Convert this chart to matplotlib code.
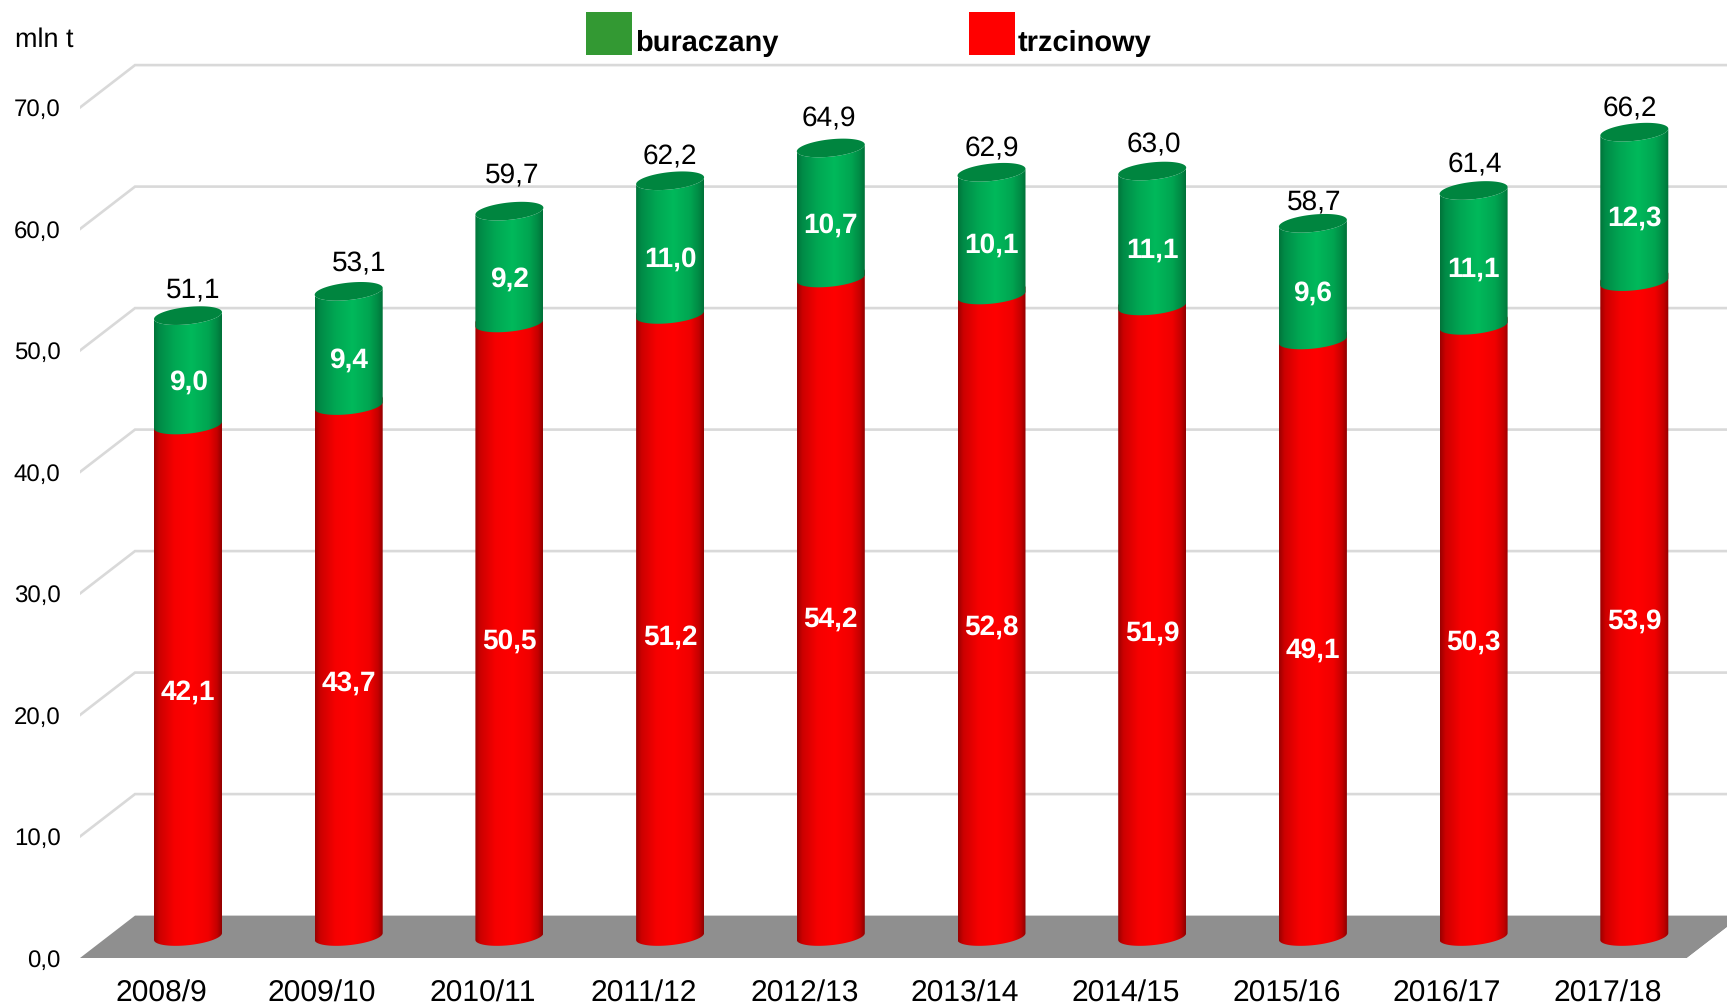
import numpy as np
import matplotlib
matplotlib.use("Agg")
import matplotlib.pyplot as plt
from matplotlib.colors import LinearSegmentedColormap
from matplotlib.patches import Polygon, PathPatch, Rectangle
from matplotlib.path import Path

plt.rcParams['font.family'] = ['Liberation Sans', 'DejaVu Sans']
plt.rcParams['text.hinting'] = 'no_hinting'
plt.rcParams['text.hinting_factor'] = 1

seasons = ["2008/9", "2009/10", "2010/11", "2011/12", "2012/13",
           "2013/14", "2014/15", "2015/16", "2016/17", "2017/18"]
cane = [42.1, 43.7, 50.5, 51.2, 54.2, 52.8, 51.9, 49.1, 50.3, 53.9]
beet = [9.0, 9.4, 9.2, 11.0, 10.7, 10.1, 11.1, 9.6, 11.1, 12.3]
totals = [51.1, 53.1, 59.7, 62.2, 64.9, 62.9, 63.0, 58.7, 61.4, 66.2]
y_ticks = [0, 10, 20, 30, 40, 50, 60, 70]

# layout (figure pixels -> axes scales)
W, H = 1727, 1007
PX_X, PX_Y = 160.7, 12.15     # px per category, px per unit
X0, Y0 = 188, 958             # px of category 0, px of value 0
AX_L = 80
fig = plt.figure(figsize=(W / 100, H / 100), dpi=100, facecolor='white')
ax = fig.add_axes([AX_L / W, (H - Y0) / H, (W - AX_L) / W, Y0 / H])
xlim = ((AX_L - X0) / PX_X, (W - X0) / PX_X)
ylim = (0, Y0 / PX_Y)

DX, DY = 55 / PX_X, 42.4 / PX_Y   # depth of the 3D wall
BASE = 21.5 / PX_Y                # bar base lift
A, B, K = 34 / PX_X, 8.7 / PX_Y, 3.4 / PX_Y  # cylinder ellipse

# gridlines and floor
for v in y_ticks[1:]:
    ax.plot([xlim[0], xlim[0] + DX, xlim[1] + 1], [v, v + DY, v + DY],
            color='#D9D9D9', lw=1.9, zorder=1, solid_joinstyle='miter')
ax.add_patch(Polygon([(xlim[0], 0), (xlim[0] + DX, DY), (xlim[1] + 1, DY),
                      ((1687 - X0) / PX_X + DX, DY), ((1687 - X0) / PX_X, 0)],
                     closed=True, fc='#8F8F8F', ec='none', zorder=2))
ax.add_patch(Polygon([((1687 - X0) / PX_X, 0), ((1687 - X0) / PX_X + DX, DY),
                      (xlim[1] + 1, DY), (xlim[1] + 1, 0)],
                     closed=True, fc='white', ec='none', zorder=2))

red_cm = LinearSegmentedColormap.from_list(
    'r', [(0, '#9A0000'), (.08, '#CC0000'), (.3, '#F60000'), (.55, '#FF0000'),
          (.8, '#F00000'), (.93, '#C40000'), (1, '#900000')])
green_cm = LinearSegmentedColormap.from_list(
    'g', [(0, '#00743A'), (.08, '#008B47'), (.3, '#00A753'), (.55, '#00B95B'),
          (.8, '#00A551'), (.93, '#008944'), (1, '#007038')])
ramp = np.linspace(0, 1, 256).reshape(1, -1)


def arc(cx, cy, t):
    return np.column_stack([cx + A * np.cos(t), cy + B * np.sin(t) + K * np.cos(t)])


def segment(cx, y0, y1, cmap, z):
    t = np.linspace(np.pi, 2 * np.pi, 60)
    pts = np.vstack([arc(cx, y1, t), arc(cx, y0, t[::-1])])
    patch = PathPatch(Path(np.vstack([pts, pts[0]]), closed=True), fc='none', ec='none',
                      transform=ax.transData)
    ax.add_patch(patch)
    im = ax.imshow(ramp, cmap=cmap, extent=(cx - A, cx + A, y0 - B - K, y1 + B + K),
                   aspect='auto', zorder=z, interpolation='bilinear')
    im.set_clip_path(patch)


# offsets of labels, in pixels
tot_dx = [5, 10, 3, 0, -2, 0, 2, 1, 1, -4]
tot_dy = [25, 27, 35, 24, 29, 23, 26, 20, 25, 23]
white = dict(color='white', fontweight='bold', fontsize=20.5, ha='center', va='center', zorder=6)

for i, (c, g, tot) in enumerate(zip(cane, beet, totals)):
    top_c = BASE + c
    top_g = top_c + g
    segment(i, BASE, top_c + 0.5, red_cm, 3)
    segment(i, top_c, top_g, green_cm, 3.1)
    ax.add_patch(Polygon(arc(i, top_g, np.linspace(0, 2 * np.pi, 80)), closed=True,
                         fc='#00853F', ec='none', zorder=3.2))
    ax.annotate(f"{tot:.1f}".replace('.', ','), (i, top_g), xytext=(tot_dx[i], tot_dy[i]),
                textcoords='offset pixels', ha='center', va='center', fontsize=20.3, color='black', zorder=6)
    ax.annotate(f"{g:.1f}".replace('.', ','), (i, top_c + g / 2), xytext=(0, -12),
                textcoords='offset pixels', **white)
    ax.annotate(f"{c:.1f}".replace('.', ','), (i, BASE + c / 2), xytext=(0, -12),
                textcoords='offset pixels', **white)

ax.set_xlim(*xlim)
ax.set_ylim(*ylim)
ax.set_xticks([i - 26.5 / PX_X for i in range(len(seasons))], seasons, fontsize=21.3)
ax.set_yticks(y_ticks, [f"{v:.1f}".replace('.', ',') for v in y_ticks], fontsize=17.6)
ax.tick_params(axis='x', length=0, pad=16)
ax.tick_params(axis='y', length=0, pad=14)
for s in ax.spines.values():
    s.set_visible(False)

# header texts and legend
fig.text(15 / W, 1 - 40 / H, "mln t", fontsize=19.3, ha='left', va='center')
for x0, col, name in [(586, '#339933', 'buraczany'), (969, '#FF0000', 'trzcinowy')]:
    fig.add_artist(Rectangle((x0 / W, 1 - 55 / H), 46 / W, 43 / H, transform=fig.transFigure,
                             fc=col, ec='none'))
    fig.text((x0 + 49) / W, 1 - 43 / H, name, fontsize=21.1, fontweight='bold', ha='left', va='center')

fig.savefig('out.png', dpi=100, facecolor='white')
